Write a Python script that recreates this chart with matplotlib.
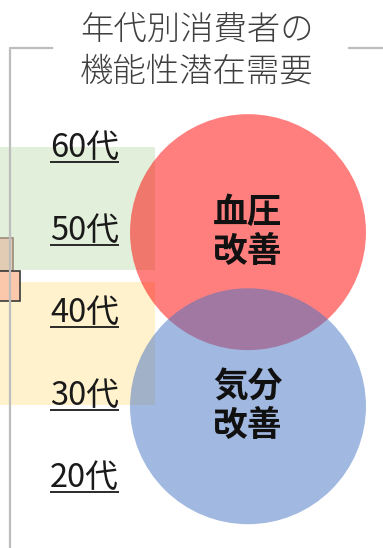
import matplotlib
matplotlib.use("Agg")
import matplotlib.pyplot as plt
from matplotlib.patches import Circle, Rectangle

# data (y in "age" units)
ages = [60, 50, 40, 30, 20]
age_labels = ["60代", "50代", "40代", "30代", "20代"]

band_top = [60.1, 43.8]
band_bottom = [45.2, 28.8]
band_colors = ["#E2EFDA", "#FFF2CC"]

circle_labels = ["血圧\n改善", "気分\n改善"]
circle_ages = [49.8, 28.7]
circle_radius = 14.3
circle_colors = ["#FF0000", "#4472C4"]

title = "年代別消費者の\n機能性潜在需要"

W, H = 383, 548
ppu = 8.25  # pixels per age year

fig = plt.figure(figsize=(W / 100, H / 100), dpi=100)
ax = fig.add_axes([0, 0, 1, 1])
ax.set_xlim(0, W / ppu)
ax.set_ylim(60 - 400 / ppu, 60 + 148 / ppu)
ax.set_aspect("equal")
ax.axis("off")

cjk = ["Noto Sans CJK JP", "DejaVu Sans"]

# bands
band_right = 155 / ppu
for top, bot, c in zip(band_top, band_bottom, band_colors):
    ax.add_patch(Rectangle((0, bot), band_right, top - bot, facecolor=c,
                           edgecolor="none", zorder=1))

# cut-off boxes at the left edge
ax.add_patch(Rectangle((-1, 45.1), 1 + 13 / ppu, 4.0, facecolor="#E2CDB4",
                       edgecolor="#9C8C7C", lw=1.2, zorder=2))
ax.add_patch(Rectangle((-1, 41.4), 1 + 20 / ppu, 3.7, facecolor="#FBC8AC",
                       edgecolor="#3A3A3A", lw=1.2, zorder=3))

# circles
cx = 248 / ppu
for a, c in zip(circle_ages, circle_colors):
    ax.add_patch(Circle((cx, a), circle_radius, facecolor=c, alpha=0.5,
                        edgecolor="none", zorder=4))
for a, lab in zip(circle_ages, circle_labels):
    ax.text(cx, a, lab, ha="center", va="center", fontsize=25,
            fontweight="bold", family=cjk, color="#111111",
            linespacing=1.15, zorder=6)

# age labels with underline
lx = 50 / ppu
texts = []
for a, lab in zip(ages, age_labels):
    t = ax.text(lx, a, lab, ha="left", va="center", fontsize=23.5,
                family=cjk, color="#1a1a1a", zorder=5)
    texts.append(t)
fig.canvas.draw()
r = fig.canvas.get_renderer()
inv = ax.transData.inverted()
for a, t in zip(ages, texts):
    bb = t.get_window_extent(r)
    (x0, _), (x1, _) = inv.transform([[bb.x0, bb.y0], [bb.x1, bb.y1]])
    yl = a - 14 / ppu
    ax.plot([x0, x1], [yl, yl], color="#1a1a1a", lw=1.3,
            zorder=5, solid_capstyle="butt")

# frame lines (figure coords)
fy = 1 - 48 / H
fig.add_artist(plt.Line2D([10 / W, 10 / W, 52 / W], [0, fy, fy],
                          color="#BDBDBD", lw=1.6, transform=fig.transFigure))
fig.add_artist(plt.Line2D([349 / W, 1], [fy, fy],
                          color="#BDBDBD", lw=1.6, transform=fig.transFigure))

# title
fig.text(197 / W, 1 - 52 / H, title, ha="center", va="center", fontsize=24,
         family=cjk, fontweight="light", color="#404040", linespacing=1.25)

fig.savefig("out.png", dpi=100)
